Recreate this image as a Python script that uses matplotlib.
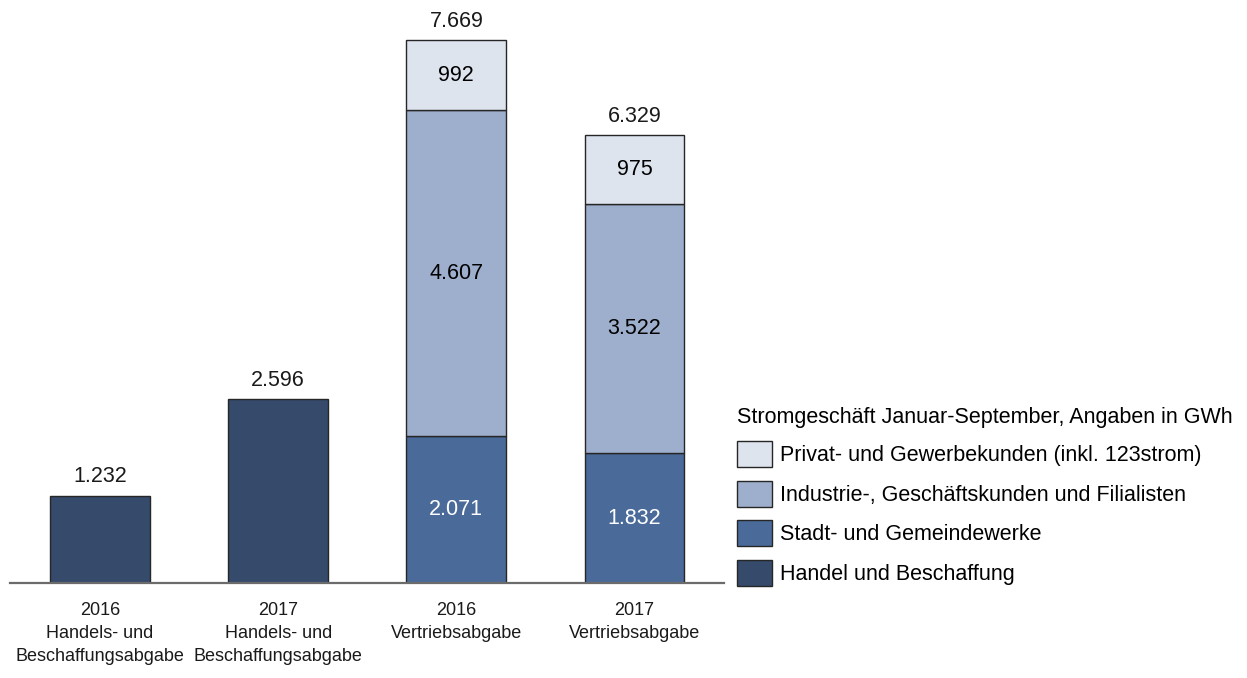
import numpy as np
import matplotlib
matplotlib.use("Agg")
import matplotlib.pyplot as plt
from matplotlib.patches import Patch

plt.rcParams['font.family'] = ['Liberation Sans', 'DejaVu Sans']

categories = ['2016\nHandels- und\nBeschaffungsabgabe', '2017\nHandels- und\nBeschaffungsabgabe',
              '2016\nVertriebsabgabe', '2017\nVertriebsabgabe']
handel = [1232, 2596, 0, 0]
stadt = [0, 0, 2071, 1832]
industrie = [0, 0, 4607, 3522]
privat = [0, 0, 992, 975]
totals = [1232, 2596, 7669, 6329]

series_names = ['Handel und Beschaffung', 'Stadt- und Gemeindewerke',
                'Industrie-, Geschäftskunden und Filialisten',
                'Privat- und Gewerbekunden (inkl. 123strom)']
colors = ['#364b6b', '#4a6b9a', '#9dafcc', '#dde4ee']
label_colors = ['black', 'white', 'black', 'black']


def fmt(v):
    return f"{v:,}".replace(",", ".")


fig = plt.figure(figsize=(12.47, 6.78), dpi=100)
ax = fig.add_axes([10 / 1247, 95 / 678, 714 / 1247, 578 / 678])

x = np.arange(len(categories))
width = 0.56
bottom = np.zeros(len(categories))
for vals, col, lc in zip([handel, stadt, industrie, privat], colors, label_colors):
    vals = np.array(vals, dtype=float)
    idx = vals > 0
    ax.bar(x[idx], vals[idx], width, bottom=bottom[idx], color=col,
           edgecolor='#262626', linewidth=1.0, zorder=2)
    # labels inside the stacked segments (only for the stacked bars)
    for i in np.where(idx)[0]:
        if i >= 2:
            ax.text(x[i], bottom[i] + vals[i] / 2, fmt(int(vals[i])), ha='center', va='center',
                    fontsize=15.5, color=lc)
    bottom += vals

for i, t in enumerate(totals):
    ax.annotate(fmt(t), (x[i], t), xytext=(0, 6), textcoords='offset points',
                ha='center', va='bottom', fontsize=15.5, color='#1a1a1a')

ax.set_xlim(-0.505, 3.502)
ax.set_ylim(0, 7669 * 578 / 543)
ax.set_xticks(x)
ax.set_xticklabels(categories, fontsize=13, linespacing=1.45, color='#1a1a1a')
ax.tick_params(axis='x', length=0, pad=14)
ax.set_yticks([])
for s in ['top', 'right', 'left']:
    ax.spines[s].set_visible(False)
ax.spines['bottom'].set_color('#6b6b6b')
ax.spines['bottom'].set_linewidth(1.6)

handles = [Patch(facecolor=c, edgecolor='#262626', linewidth=1.0) for c in colors][::-1]
leg = fig.legend(handles, series_names[::-1], loc='upper left',
                 bbox_to_anchor=(728 / 1247, 1 - 398 / 678),
                 title='Stromgeschäft Januar-September, Angaben in GWh',
                 fontsize=15.5, title_fontsize=15.5, frameon=False,
                 handlelength=1.65, handleheight=1.5, handletextpad=0.35,
                 labelspacing=0.62, borderaxespad=0)
leg._legend_box.align = 'left'

fig.savefig('out.png', dpi=100)
